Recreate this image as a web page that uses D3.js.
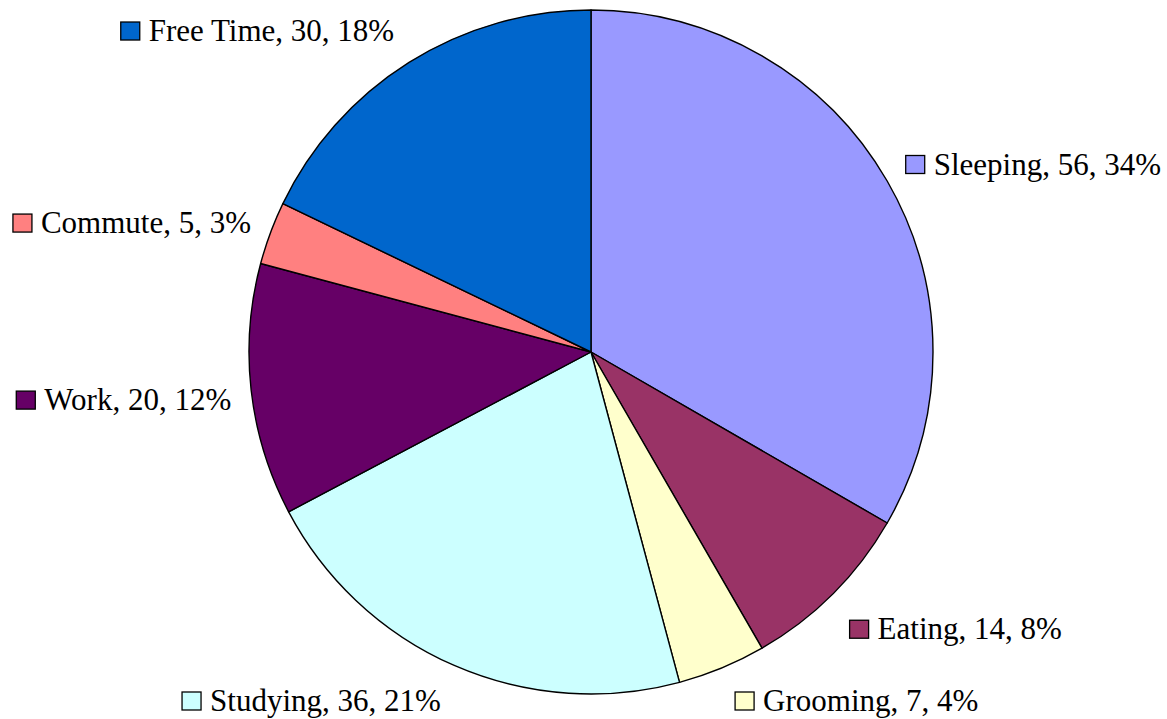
<!DOCTYPE html>
<html>
<head>
<meta charset="utf-8">
<script src="https://cdn.jsdelivr.net/npm/d3@7"></script>
<style>
  html, body { margin: 0; padding: 0; background: #fff; }
  svg { display: block; }
</style>
</head>
<body>
<svg id="chart" width="1167" height="719"></svg>
<script>
(() => {
  'use strict';

  const categories = ["Sleeping", "Eating", "Grooming", "Studying", "Work", "Commute", "Free Time"];
  const hours = [56, 14, 7, 36, 20, 5, 30];
  const percents = [34, 8, 4, 21, 12, 3, 18];
  const colors = ["#9999FF", "#993366", "#FFFFCC", "#CCFFFF", "#660066", "#FF8080", "#0066CC"];

  let width = 1167, height = 719;
  let cx = 591, cy = 352, radius = 342;
  let labelRadius = radius + 29;

  let svg = d3.select('#chart');
  let slices = categories.map((c, i) => ({name: c, value: hours[i], pct: percents[i], color: colors[i]}));

  let pie = d3.pie().sort(null).value(d => d.value);
  let arc = d3.arc().innerRadius(0).outerRadius(radius);
  let arcs = pie(slices);

  let g = svg.append('g').attr('transform', `translate(${cx},${cy})`);

  g.selectAll('path')
    .data(arcs)
    .join('path')
    .attr('d', arc)
    .attr('fill', d => d.data.color)
    .attr('stroke', '#000')
    .attr('stroke-width', 1.4)
    .attr('stroke-linejoin', 'round');

  // labels: small square + "name, value, pct%"
  let labels = svg.selectAll('g.label')
    .data(arcs)
    .join('g')
    .attr('class', 'label');

  labels.append('rect')
    .attr('width', 19)
    .attr('height', 18)
    .attr('fill', d => d.data.color)
    .attr('stroke', '#000')
    .attr('stroke-width', 1.3);

  labels.append('text')
    .attr('x', 28)
    .attr('y', 19)
    .attr('font-family', "'Liberation Serif', Tinos, 'Times New Roman', Times, serif")
    .attr('font-size', 31)
    .attr('fill', '#000')
    .text(d => `${d.data.name}, ${d.data.value}, ${d.data.pct}%`);

  labels.each(function (d) {
    let sel = d3.select(this);
    let w = 28 + sel.select('text').node().getComputedTextLength();
    let a = (d.startAngle + d.endAngle) / 2;
    let s = Math.sin(a), c = Math.cos(a);
    let px = cx + labelRadius * s;
    let py = cy - labelRadius * c;
    let pull = 18 * Math.abs(s) - 9; // labels near the sides sit a bit closer
    let mid = py - 14 * c + 5;
    mid = Math.max(12, Math.min(height - 18, mid)); // keep descenders inside
    let x = s >= 0 ? px - pull : px + pull - w;
    x = Math.max(10, Math.min(width - w - 5, x));
    sel.attr('transform', `translate(${x},${mid - 9})`);
  });
})();
</script>
</body>
</html>
